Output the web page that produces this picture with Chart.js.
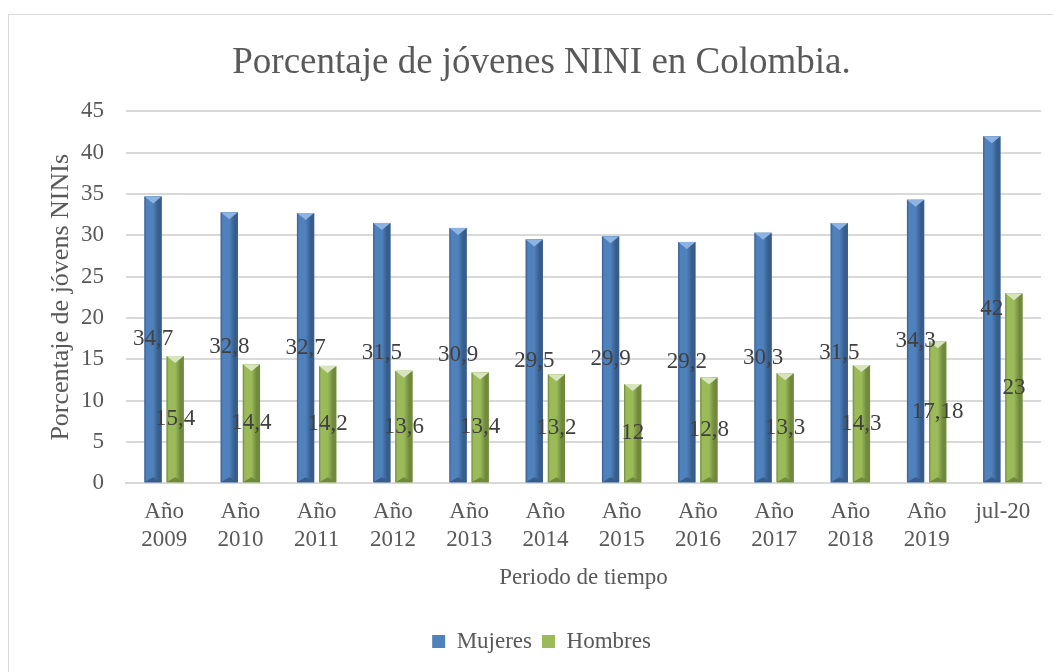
<!DOCTYPE html>
<html lang="es">
<head>
    <meta charset="UTF-8">
    <title>Porcentaje de jóvenes NINI en Colombia</title>
    <script src="https://cdn.jsdelivr.net/npm/chart.js"></script>
    <style>
        body { margin: 0; background: #fff; overflow: hidden; }
        #frame { position: absolute; left: 8px; top: 14px; width: 1080px; height: 700px; border: 1px solid #d9d9d9; }
        #chart { position: absolute; left: 0; top: 0; }
    </style>
</head>
<body>
    <div id="frame"></div>
    <canvas id="chart" width="1053" height="672"></canvas>

    <script>
        // Periodos (etiquetas del eje x, en dos lineas)
        const periodos = [
            ['Año', '2009'], ['Año', '2010'], ['Año', '2011'], ['Año', '2012'],
            ['Año', '2013'], ['Año', '2014'], ['Año', '2015'], ['Año', '2016'],
            ['Año', '2017'], ['Año', '2018'], ['Año', '2019'], 'jul-20'
        ];

        // Porcentajes por sexo
        const mujeres = [34.7, 32.8, 32.7, 31.5, 30.9, 29.5, 29.9, 29.2, 30.3, 31.5, 34.3, 42];
        const hombres = [15.4, 14.4, 14.2, 13.6, 13.4, 13.2, 12, 12.8, 13.3, 14.3, 17.18, 23];

        const serif = "'Liberation Serif', 'Times New Roman', serif";

        // colores: base, claro (triangulo superior), oscuro (borde)
        const paleta = [
            { base: '#4f81bd', light: '#8db3e2', dark: '#385d8a' },
            { base: '#9bbb59', light: '#d7e4bd', dark: '#71893f' }
        ];

        // bisel de las barras, tipo Excel
        const bevelPlugin = {
            id: 'bevel',
            afterDatasetsDraw(chart) {
                const ctx = chart.ctx;
                chart.data.datasets.forEach((ds, i) => {
                    const meta = chart.getDatasetMeta(i);
                    const c = paleta[i];
                    meta.data.forEach(bar => {
                        const left = bar.x - bar.width / 2;
                        const right = bar.x + bar.width / 2;
                        const top = bar.y;
                        const bottom = bar.base;
                        const g = ctx.createLinearGradient(left, 0, right, 0);
                        g.addColorStop(0, c.dark);
                        g.addColorStop(0.12, c.base);
                        g.addColorStop(0.5, c.base);
                        g.addColorStop(0.8, c.dark);
                        g.addColorStop(1, c.dark);
                        ctx.save();
                        ctx.fillStyle = g;
                        ctx.fillRect(left, top, right - left, bottom - top);
                        // triangulo superior
                        ctx.fillStyle = c.light;
                        ctx.beginPath();
                        ctx.moveTo(left, top);
                        ctx.lineTo(right, top);
                        ctx.lineTo(bar.x, top + 7);
                        ctx.closePath();
                        ctx.fill();
                        // triangulo inferior
                        ctx.fillStyle = c.dark;
                        ctx.beginPath();
                        ctx.moveTo(left, bottom);
                        ctx.lineTo(right, bottom);
                        ctx.lineTo(bar.x, bottom - 5);
                        ctx.closePath();
                        ctx.fill();
                        ctx.restore();
                    });
                });
            }
        };

        // etiquetas de datos centradas en cada barra
        const labelPlugin = {
            id: 'valueLabels',
            afterDatasetsDraw(chart) {
                const ctx = chart.ctx;
                ctx.save();
                ctx.font = '23px ' + serif;
                ctx.fillStyle = '#404040';
                ctx.textAlign = 'center';
                ctx.textBaseline = 'middle';
                chart.data.datasets.forEach((ds, i) => {
                    const meta = chart.getDatasetMeta(i);
                    meta.data.forEach((bar, j) => {
                        const txt = String(ds.data[j]).replace('.', ',');
                        ctx.fillText(txt, bar.x, (bar.y + bar.base) / 2);
                    });
                });
                ctx.restore();
            }
        };

        new Chart(document.getElementById('chart'), {
            type: 'bar',
            data: {
                labels: periodos,
                datasets: [
                    { label: 'Mujeres', data: mujeres, backgroundColor: paleta[0].base,
                      barPercentage: 0.78, categoryPercentage: 0.58 },
                    { label: 'Hombres', data: hombres, backgroundColor: paleta[1].base,
                      barPercentage: 0.78, categoryPercentage: 0.58 }
                ]
            },
            options: {
                responsive: false,
                animation: false,
                layout: { padding: { left: 42, right: 12, top: 14, bottom: 9 } },
                plugins: {
                    title: {
                        display: true,
                        text: 'Porcentaje de jóvenes NINI en Colombia.',
                        color: '#595959',
                        font: { family: serif, size: 37, weight: 'normal' },
                        padding: { top: 27, bottom: 26 }
                    },
                    legend: {
                        position: 'bottom',
                        labels: {
                            color: '#595959',
                            font: { family: serif, size: 23 },
                            boxWidth: 13,
                            boxHeight: 13,
                            padding: 10
                        }
                    },
                    tooltip: { enabled: false }
                },
                scales: {
                    x: {
                        grid: { display: false },
                        border: { color: '#d9d9d9', width: 2 },
                        ticks: { color: '#595959', font: { family: serif, size: 23 }, maxRotation: 0, padding: 7 },
                        title: {
                            display: true,
                            text: 'Periodo de tiempo',
                            color: '#595959',
                            font: { family: serif, size: 23 },
                            padding: { top: 4, bottom: 28 }
                        }
                    },
                    y: {
                        min: 0,
                        max: 45,
                        afterFit(scale) { scale.width = 84; },
                        ticks: { stepSize: 5, color: '#595959', font: { family: serif, size: 23 }, padding: 22 },
                        grid: { color: '#d9d9d9', lineWidth: 2, drawTicks: false },
                        border: { display: false },
                        title: {
                            display: true,
                            text: 'Porcentaje de jóvens NINIs',
                            color: '#595959',
                            font: { family: serif, size: 26 },
                            padding: { top: 4, bottom: 2 }
                        }
                    }
                }
            },
            plugins: [bevelPlugin, labelPlugin]
        });
    </script>
</body>
</html>
